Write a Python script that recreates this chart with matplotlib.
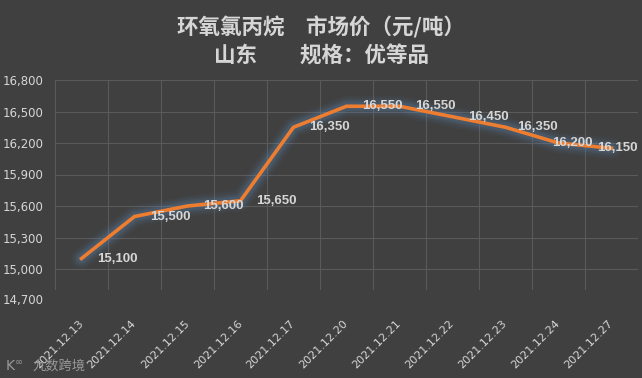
import matplotlib
matplotlib.use("Agg")
import matplotlib.pyplot as plt
import numpy as np

plt.rcParams['font.family'] = ['Noto Sans CJK SC', 'DejaVu Sans']

dates = ["2021.12.13", "2021.12.14", "2021.12.15", "2021.12.16", "2021.12.17",
         "2021.12.20", "2021.12.21", "2021.12.22", "2021.12.23", "2021.12.24", "2021.12.27"]
prices = [15100, 15500, 15600, 15650, 16350, 16550, 16550, 16450, 16350, 16200, 16150]
yticks = [14700, 15000, 15300, 15600, 15900, 16200, 16500, 16800]
title1 = "环氧氯丙烷\u3000市场价（元/吨）"
title2 = "山东\u3000\u3000规格：优等品"

bg = "#404040"
txt = "#d6d6d6"
grid = "#5a5a5a"

W, H = 642, 378
fig = plt.figure(figsize=(W/100, H/100), dpi=100, facecolor=bg)
ax = fig.add_axes([55/W, 1-290/H, 583/W, 210/H], facecolor=bg)

x = np.arange(len(dates))
# glow around the line
for lw, a in [(15, 0.05), (12, 0.07), (9, 0.10), (6.5, 0.14)]:
    ax.plot(x, prices, color="#5f8fc4", lw=lw, alpha=a, solid_capstyle='round',
            solid_joinstyle='round', zorder=2)
ax.plot(x, prices, color="#ed7d31", lw=2.6, solid_joinstyle='miter', zorder=3)

# label offsets in pixels (Excel shifts the last labels to avoid overlap/clipping)
label_dx = [16, 16, 16, 16, 16, 16, 16, 16, 12, -6, -14]
for xi, p, dx in zip(x, prices, label_dx):
    ax.annotate(f"{p:,}", (xi, p), xytext=(dx*0.72, 0), textcoords='offset points',
                ha='left', va='center', color=txt, fontsize=9.5, fontweight='bold',
                family='Liberation Sans', zorder=4)

ax.set_xlim(-0.5, len(dates)-0.5)
ax.set_ylim(14800, 16800)
shown = [t for t in yticks if t >= 14800]
ax.set_yticks(shown)
ax.set_yticklabels([f"{t:,}" for t in shown], color=txt, fontsize=8.5, family='DejaVu Sans')
ax.annotate(f"{yticks[0]:,}", (0, 14700), xycoords=ax.get_yaxis_transform(),
            xytext=(-8, 0), textcoords='offset points',
            ha='right', va='center', color=txt, fontsize=8.5, family='DejaVu Sans',
            annotation_clip=False)
ax.set_xticks(x)
ax.set_xticklabels(dates, rotation=45, ha='right', va='center', rotation_mode='anchor',
                   color=txt, fontsize=8, family='DejaVu Sans')
ax.tick_params(axis='y', length=0, pad=8)
ax.tick_params(axis='x', length=0, pad=23)
ax.set_xticks(np.arange(-0.5, len(dates), 1), minor=True)
ax.grid(False)
ax.xaxis.grid(True, which='minor', color=grid, lw=0.8)
ax.yaxis.grid(True, which='major', color=grid, lw=0.8)
ax.tick_params(which='minor', length=0)
for s in ax.spines.values():
    s.set_visible(False)
ax.set_axisbelow(True)

fig.text(0.5, 1-35/H, title1, ha='center', va='baseline', color=txt, fontsize=15.5, fontweight='bold')
fig.text(0.5, 1-63/H, title2, ha='center', va='baseline', color=txt, fontsize=15.5, fontweight='bold')
fig.text(6/W, 1-366/H, "K", ha='left', va='center', color="#9a9a9a", fontsize=10, family='DejaVu Sans')
fig.text(15/W, 1-362/H, "∞", ha='left', va='center', color="#9a9a9a", fontsize=7, family='DejaVu Sans')
fig.text(33/W, 1-366/H, "九数跨境", ha='left', va='center', color="#9a9a9a", fontsize=9.5)

fig.savefig("out.png", dpi=100, facecolor=bg)
